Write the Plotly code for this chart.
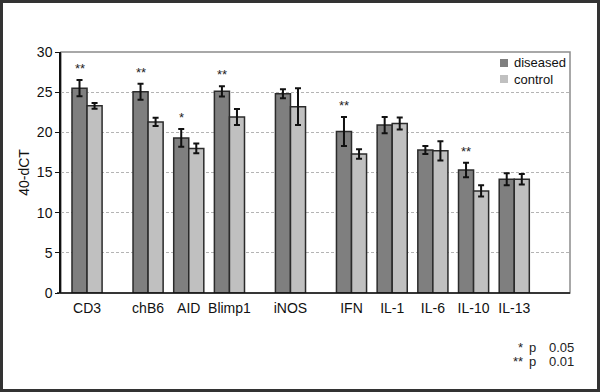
import plotly.graph_objects as go

# ---- data ----
categories = ["CD3", "chB6", "AID", "Blimp1", "iNOS", "IFN", "IL-1", "IL-6", "IL-10", "IL-13"]
diseased = [25.5, 25.05, 19.3, 25.1, 24.8, 20.1, 20.9, 17.8, 15.3, 14.15]
diseased_err = [1.0, 1.0, 1.1, 0.65, 0.55, 1.8, 1.0, 0.5, 0.9, 0.75]
control = [23.3, 21.3, 18.0, 21.9, 23.2, 17.3, 21.1, 17.7, 12.7, 14.15]
control_err = [0.35, 0.5, 0.6, 1.0, 2.3, 0.6, 0.75, 1.2, 0.7, 0.65]
significance = ["**", "**", "*", "**", "", "**", "", "", "**", ""]
y_ticks = [0, 5, 10, 15, 20, 25, 30]
series_names = ["diseased", "control"]
footnote_stars = ["*", "**"]
footnote_p = ["p", "p"]
footnote_vals = ["0.05", "0.01"]

# ---- layout helpers (spacing between category groups, in slot units) ----
gaps_before = [0, 1.5, 1, 1, 1.5, 1.5, 1, 1, 1, 1]
pos = []
acc = 0
for g in gaps_before:
    acc += g
    pos.append(acc)

BARGAP = 0.26
half = (1 - BARGAP) / 4  # offset of each bar centre from group centre

FONT = "Arial, Liberation Sans, sans-serif"
W, H = 600, 392
ML, MR, MT, MB = 61, 30, 52, 99
COL_D, COL_C = "#7f7f7f", "#c0c0c0"
TXT = "#111111"

fig = go.Figure()
fig.add_trace(go.Bar(
    x=pos, y=diseased, name=series_names[0], showlegend=False,
    marker=dict(color=COL_D, line=dict(color="#2b2b2b", width=1.5)),
    error_y=dict(type="data", array=diseased_err, color=TXT, thickness=2, width=3),
))
fig.add_trace(go.Bar(
    x=pos, y=control, name=series_names[1], showlegend=False,
    marker=dict(color=COL_C, line=dict(color="#2b2b2b", width=1.5)),
    error_y=dict(type="data", array=control_err, color=TXT, thickness=2, width=3),
))

# significance stars above diseased bars
for p, v, e, s in zip(pos, diseased, diseased_err, significance):
    if s:
        fig.add_annotation(
            x=p - half, y=v + e, text=s, showarrow=False,
            xanchor="center", yanchor="bottom", yshift=2,
            font=dict(family=FONT, size=13, color="#222222"),
        )

pw = W - ML - MR
ph = H - MT - MB
def px_x(x):
    return (x - ML) / pw
def px_y(y):
    return (H - MB - y) / ph

# legend (squares + labels) in the top-right corner of the plot
for i, (nm, col) in enumerate(zip(series_names, [COL_D, COL_C])):
    cy = 63 + 16 * i
    fig.add_shape(type="rect", xref="paper", yref="paper",
                  x0=px_x(500), x1=px_x(508), y0=px_y(cy + 4), y1=px_y(cy - 4),
                  line=dict(width=0), fillcolor=col)
    fig.add_annotation(x=px_x(512), y=px_y(cy), xref="paper", yref="paper", text=nm,
                       showarrow=False, xanchor="left", yanchor="middle",
                       font=dict(family=FONT, size=13, color=TXT))

# footnote
for i, (st, pp, vv) in enumerate(zip(footnote_stars, footnote_p, footnote_vals)):
    yy = px_y(347 + 14.5 * i)
    fig.add_annotation(x=px_x(525), y=yy, xref="paper", yref="paper", text=st,
                       showarrow=False, xanchor="right", yanchor="middle",
                       font=dict(family=FONT, size=13, color="#222222"))
    fig.add_annotation(x=px_x(527), y=yy, xref="paper", yref="paper", text=pp,
                       showarrow=False, xanchor="left", yanchor="middle",
                       font=dict(family=FONT, size=13, color="#222222"))
    fig.add_annotation(x=px_x(547), y=yy, xref="paper", yref="paper", text=vv,
                       showarrow=False, xanchor="left", yanchor="middle",
                       font=dict(family=FONT, size=13, color="#222222"))

# plot frame (top/right gray) and outer image border
fig.add_shape(type="rect", xref="paper", yref="paper", x0=0, x1=1, y0=0, y1=1,
              line=dict(color="#8c8c8c", width=1.5), layer="below")
fig.add_shape(type="rect", xref="paper", yref="paper",
              x0=px_x(1.5), x1=px_x(W - 1.5), y0=px_y(H - 1.5), y1=px_y(1.5),
              line=dict(color="#333333", width=3))
# bottom axis line (extends slightly left of the y axis)
fig.add_shape(type="line", xref="paper", yref="paper", x0=px_x(ML - 4), x1=1, y0=0, y1=0,
              line=dict(color=TXT, width=1.5))

fig.update_layout(
    width=W, height=H,
    margin=dict(l=ML, r=MR, t=MT, b=MB, autoexpand=False),
    paper_bgcolor="white", plot_bgcolor="white",
    barmode="group", bargap=BARGAP, bargroupgap=0,
    font=dict(family=FONT, size=14, color=TXT),
    showlegend=False,
    xaxis=dict(
        range=[-0.64, 11.87], tickvals=pos, ticktext=categories,
        showgrid=False, zeroline=False, showline=False, ticks="",
        automargin=False, ticklabelstandoff=5,
        tickfont=dict(family=FONT, size=14, color=TXT),
    ),
    yaxis=dict(
        range=[0, 30], tickvals=y_ticks, ticks="outside", ticklen=4, tickcolor=TXT,
        showline=True, linecolor=TXT, linewidth=1.5,
        showgrid=True, gridcolor="#b4b4b4", griddash="3px,2px", gridwidth=1,
        zeroline=False, automargin=False,
        tickfont=dict(family=FONT, size=14, color=TXT),
        title=dict(text="40-dCT", font=dict(family=FONT, size=14, color=TXT), standoff=4),
    ),
)

fig.write_html("out.html", config={"displayModeBar": False},
               post_script="document.body.style.margin='0';")
